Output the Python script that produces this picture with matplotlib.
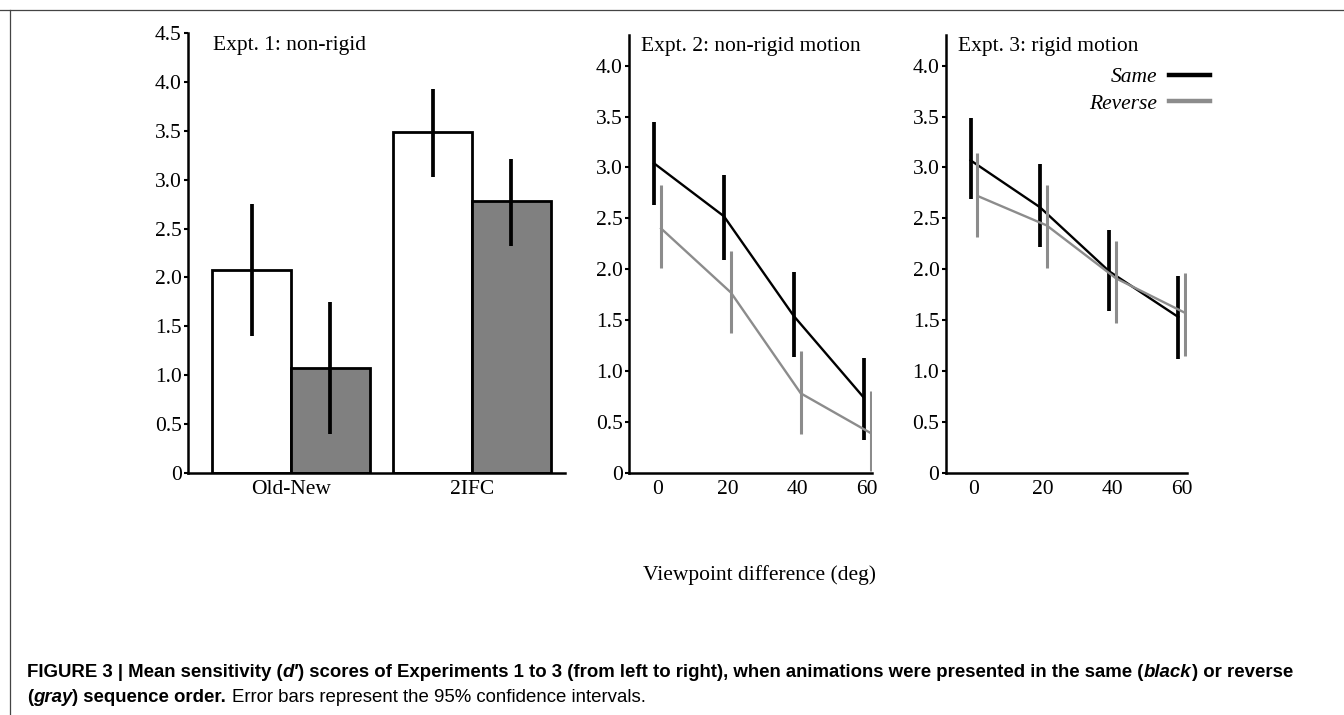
import numpy as np
import matplotlib
matplotlib.use('Agg')
import matplotlib.pyplot as plt
from matplotlib.lines import Line2D

plt.rcParams['font.family'] = ['Liberation Serif', 'DejaVu Serif']

# Expt. 1 (bars)
groups = ['Old-New', '2IFC']
same1 = [2.08, 3.49]
same1_lo = [1.40, 3.03]
same1_hi = [2.75, 3.93]
rev1 = [1.07, 2.78]
rev1_lo = [0.40, 2.32]
rev1_hi = [1.75, 3.21]

# Expt. 2 and 3 (lines), viewpoint difference in deg
viewpoints = [0, 20, 40, 60]
same2 = [3.04, 2.52, 1.54, 0.74]
same2_lo = [2.63, 2.09, 1.14, 0.32]
same2_hi = [3.45, 2.93, 1.97, 1.13]
rev2 = [2.40, 1.77, 0.78, 0.39]
rev2_lo = [2.01, 1.37, 0.38, 0.02]
rev2_hi = [2.83, 2.18, 1.20, 0.80]

same3 = [3.07, 2.61, 1.98, 1.53]
same3_lo = [2.69, 2.22, 1.59, 1.12]
same3_hi = [3.49, 3.03, 2.39, 1.93]
rev3 = [2.72, 2.43, 1.91, 1.57]
rev3_lo = [2.32, 2.01, 1.47, 1.15]
rev3_hi = [3.14, 2.83, 2.28, 1.96]

yticks1 = [0, 0.5, 1.0, 1.5, 2.0, 2.5, 3.0, 3.5, 4.0, 4.5]
ylabels1 = ['0', '0.5', '1.0', '1.5', '2.0', '2.5', '3.0', '3.5', '4.0', '4.5']
yticks2 = yticks1[:-1]
ylabels2 = ylabels1[:-1]

GRAY = '#808080'
LINEGRAY = '#8c8c8c'
FS = 15.5

fig = plt.figure(figsize=(13.44, 7.15), dpi=100)


def style_axes(ax, yt, yl, top):
    for s in ['top', 'right']:
        ax.spines[s].set_visible(False)
    for s in ['left', 'bottom']:
        ax.spines[s].set_linewidth(1.8)
    ax.set_ylim(0, top)
    ax.set_yticks(yt)
    ax.set_yticklabels(yl, fontsize=FS)
    ax.tick_params(axis='y', length=3, width=1.5, pad=1.5)
    ax.tick_params(axis='x', length=0, pad=5, labelsize=FS)


# panel 1
ax1 = fig.add_axes([0.1399, 0.3385, 0.2805, 0.6154])
x = np.arange(len(groups))
w = 0.436
ax1.bar(x - w / 2, same1, w, color='white', edgecolor='black', linewidth=2)
ax1.bar(x + w / 2, rev1, w, color=GRAY, edgecolor='black', linewidth=2)
ax1.vlines(x - w / 2, same1_lo, same1_hi, color='black', linewidth=2.7)
ax1.vlines(x + w / 2, rev1_lo, rev1_hi, color='black', linewidth=2.7)
ax1.set_xlim(-0.569, 1.514)
ax1.set_xticks(x)
ax1.set_xticklabels(groups)
style_axes(ax1, yticks1, ylabels1, 4.5)
ax1.text(0.066, 0.972, 'Expt. 1: non-rigid', transform=ax1.transAxes,
         fontsize=FS, va='center', ha='left')


def line_panel(rect, same, s_lo, s_hi, rev, r_lo, r_hi, title):
    ax = fig.add_axes(rect)
    vp = np.array(viewpoints)
    ax.plot(vp - 1, same, color='black', linewidth=1.7, label='Same')
    ax.vlines(vp - 1, s_lo, s_hi, color='black', linewidth=2.7)
    ax.plot(vp + 1, rev, color=LINEGRAY, linewidth=1.7, label='Reverse')
    ax.vlines(vp + 1, r_lo, r_hi, color=LINEGRAY, linewidth=2.2)
    ax.set_xlim(-8.2, 61.4)
    ax.set_xticks(viewpoints)
    ax.set_xticklabels([str(v) for v in viewpoints])
    style_axes(ax, yticks2, ylabels2, 4.3)
    ax.text(0.05, 0.975, title, transform=ax.transAxes,
            fontsize=FS, va='center', ha='left')
    return ax


ax2 = line_panel([0.4680, 0.3389, 0.1808, 0.6119], same2, same2_lo, same2_hi,
                 rev2, rev2_lo, rev2_hi, 'Expt. 2: non-rigid motion')
ax3 = line_panel([0.7036, 0.3389, 0.1793, 0.6119], same3, same3_lo, same3_hi,
                 rev3, rev3_lo, rev3_hi, 'Expt. 3: rigid motion')

handles = [Line2D([], [], color='black', linewidth=3.2),
           Line2D([], [], color=LINEGRAY, linewidth=3.2)]
leg = ax3.legend(handles, ['Same', 'Reverse'], loc='upper right',
                 bbox_to_anchor=(1210 / 1344, 1 - 67 / 715),
                 bbox_transform=fig.transFigure, frameon=False,
                 markerfirst=False, handlelength=1.9, handletextpad=0.55,
                 labelspacing=0.32, borderpad=0, borderaxespad=0,
                 prop={'size': FS, 'style': 'italic'})

fig.text(759 / 1344, 1 - 575 / 715, 'Viewpoint difference (deg)',
         fontsize=FS, ha='center', va='center')

# frame lines
fig.add_artist(Line2D([0, 1], [1 - 9.5 / 715] * 2, color='#444444',
                      linewidth=0.9, transform=fig.transFigure))
fig.add_artist(Line2D([9.5 / 1344] * 2, [0, 1 - 9.5 / 715], color='#444444',
                      linewidth=0.9, transform=fig.transFigure))

# caption with mixed styles
renderer = fig.canvas.get_renderer()
CAP = 13.4
cap_font = ['Liberation Sans', 'DejaVu Sans']


def text_width(s, weight, style):
    t = fig.text(0, 0, s, fontsize=CAP, fontweight=weight, fontstyle=style,
                 family=cap_font)
    wd = t.get_window_extent(renderer).width
    t.remove()
    return wd


space_w = text_width('a a', 'bold', 'normal') - text_width('aa', 'bold', 'normal')


def rich_line(xpix, ypix, parts):
    for s, weight, style, gap in parts:
        xpix += gap * space_w
        t = fig.text(xpix / 1344, 1 - ypix / 715, s, fontsize=CAP,
                     fontweight=weight, fontstyle=style, family=cap_font,
                     va='baseline', ha='left')
        xpix += t.get_window_extent(renderer).width


rich_line(27, 677, [
    ('FIGURE 3 | Mean sensitivity (', 'bold', 'normal', 0),
    ('d\u2032', 'bold', 'italic', 0),
    (') scores of Experiments 1 to 3 (from left to right), when animations '
     'were presented in the same (', 'bold', 'normal', 0),
    ('black', 'bold', 'italic', 0),
    (') or reverse', 'bold', 'normal', 0),
])
rich_line(27, 702, [
    ('(', 'bold', 'normal', 0),
    ('gray', 'bold', 'italic', 0),
    (') sequence order.', 'bold', 'normal', 0),
    ('Error bars represent the 95% confidence intervals.', 'normal', 'normal', 1),
])

fig.savefig('out.png', dpi=100)
